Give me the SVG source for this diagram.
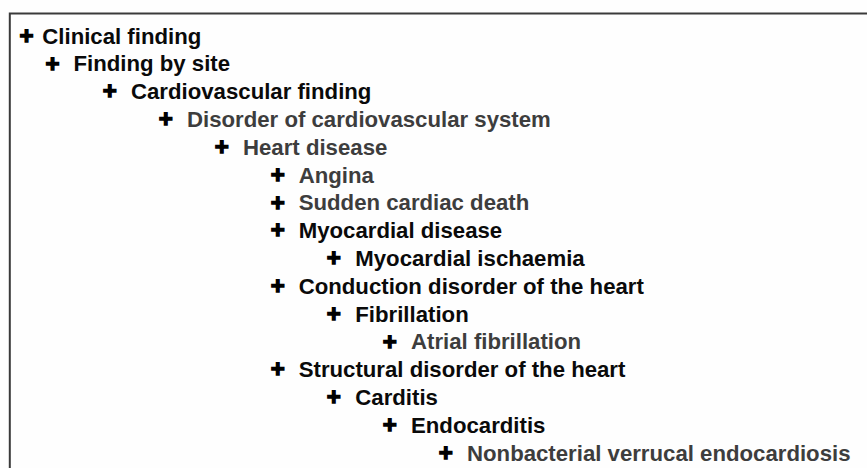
<svg xmlns="http://www.w3.org/2000/svg" width="867" height="468" viewBox="0 0 867 468">
<style>
text{font-family:"Liberation Sans",Arial,sans-serif;font-weight:bold}
.l{font-size:22.2px}
.k{fill:#0a0a0a}
.g{fill:#3d3d3d}
.p{font-size:24px;fill:#000;stroke:#000;stroke-width:1.4;text-anchor:middle}
</style>
<rect x="0" y="0" width="867" height="468" fill="#fefefe"/>
<path d="M9.8 470 V13.6 H870" fill="none" stroke="#3a3a3a" stroke-width="2"/>
<g id="n1"><text class="p" x="26.5" y="43.8">+</text><text class="l k" x="42.3" y="43.5">Clinical finding</text></g>
<g id="n2"><text class="p" x="52.5" y="71.6">+</text><text class="l k" x="73.5" y="71.3">Finding by site</text></g>
<g id="n3"><text class="p" x="109.7" y="99.4">+</text><text class="l k" x="131" y="99.1">Cardiovascular finding</text></g>
<g id="n4"><text class="p" x="165.7" y="127.2">+</text><text class="l g" x="187" y="126.9">Disorder of cardiovascular system</text></g>
<g id="n5"><text class="p" x="221.7" y="155">+</text><text class="l g" x="243" y="154.7">Heart disease</text></g>
<g id="n6"><text class="p" x="277.7" y="182.8">+</text><text class="l g" x="298.7" y="182.5">Angina</text></g>
<g id="n7"><text class="p" x="277.7" y="210.6">+</text><text class="l g" x="298.7" y="210.3">Sudden cardiac death</text></g>
<g id="n8"><text class="p" x="277.7" y="238.4">+</text><text class="l k" x="298.7" y="238.1">Myocardial disease</text></g>
<g id="n9"><text class="p" x="333.7" y="266.2">+</text><text class="l k" x="355.3" y="265.9">Myocardial ischaemia</text></g>
<g id="n10"><text class="p" x="277.7" y="294">+</text><text class="l k" x="298.7" y="293.7">Conduction disorder of the heart</text></g>
<g id="n11"><text class="p" x="333.7" y="321.8">+</text><text class="l k" x="355.3" y="321.5">Fibrillation</text></g>
<g id="n12"><text class="p" x="389.7" y="349.6">+</text><text class="l g" x="411" y="349.3">Atrial fibrillation</text></g>
<g id="n13"><text class="p" x="277.7" y="377.4">+</text><text class="l k" x="298.7" y="377.1">Structural disorder of the heart</text></g>
<g id="n14"><text class="p" x="333.7" y="405.2">+</text><text class="l k" x="355.3" y="404.9">Carditis</text></g>
<g id="n15"><text class="p" x="389.7" y="433">+</text><text class="l k" x="411" y="432.7">Endocarditis</text></g>
<g id="n16"><text class="p" x="445.7" y="460.8">+</text><text class="l g" x="467" y="460.5">Nonbacterial verrucal endocardiosis</text></g>
<g id="connectors"/>
</svg>
